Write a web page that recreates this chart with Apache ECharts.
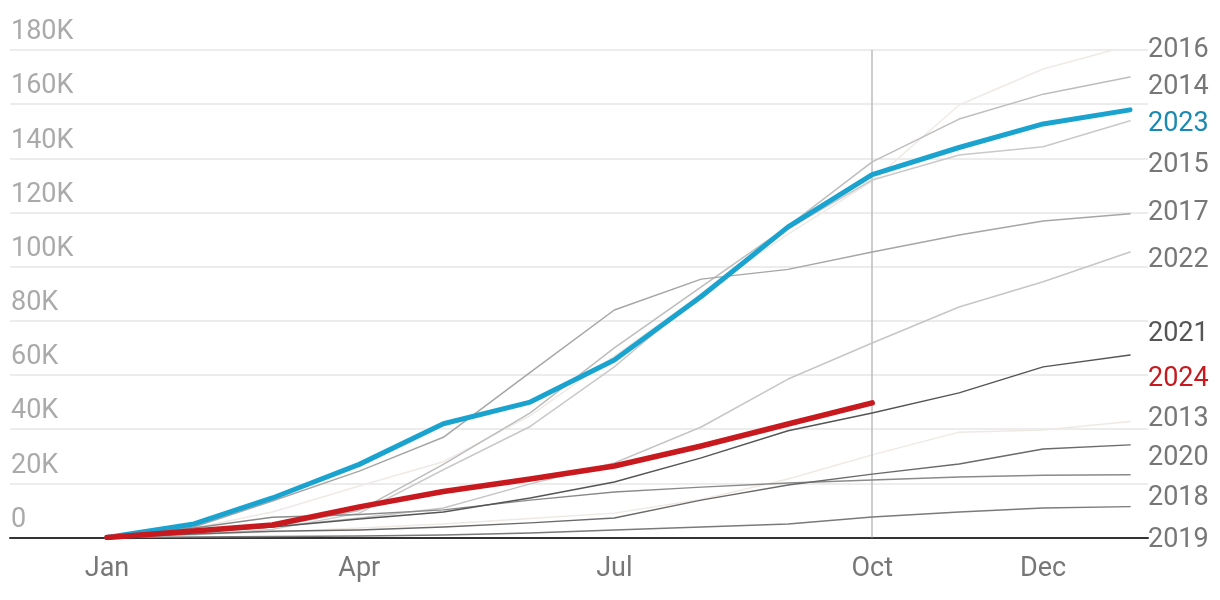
<!DOCTYPE html>
<html>
<head>
<meta charset="utf-8">
<script src="https://cdn.jsdelivr.net/npm/echarts@6/dist/echarts.min.js"></script>
<style>html,body{margin:0;padding:0;background:#fff}#c{width:1220px;height:600px}</style>
</head>
<body>
<div id="c"></div>
<script>
// x positions: day of year at the first of each month (last = year end)
const monthDays = [0, 31, 59, 90, 120, 151, 181, 212, 243, 273, 304, 334, 365];
const tickDays = [0, 90, 181, 273, 334];
const tickLabels = ['Jan', 'Apr', 'Jul', 'Oct', 'Dec'];
const yTickLabels = ['0', '20K', '40K', '60K', '80K', '100K', '120K', '140K', '160K', '180K'];
const markerDay = 273;

// cumulative values, thousands
const s2013 = [0, 1, 2, 3.5, 5, 7, 9, 14, 21.6, 30.5, 38.9, 39.7, 42.8];
const s2014 = [0, 1.5, 4, 10, 27, 46, 70, 92.5, 115, 138.7, 154.5, 163.7, 170];
const s2015 = [0, 1, 3, 9, 25, 41, 63, 90, 114, 132, 141.2, 144.3, 153.9];
const s2016 = [0, 3.5, 9.4, 19, 28, 45, 67, 90, 112, 131.6, 159.7, 173, 181.7];
const s2017 = [0, 3.9, 13.5, 24.5, 37, 61, 84, 95.4, 99, 105.4, 111.7, 116.9, 119.5];
const s2018 = [0, 3.5, 7.5, 8.5, 10.2, 13.8, 16.8, 18.6, 20.1, 21.2, 22.3, 23, 23.2];
const s2019 = [0, 0.2, 0.4, 0.6, 0.9, 1.7, 2.8, 3.9, 5, 7.6, 9.4, 10.9, 11.4];
const s2020 = [0, 1.3, 2.3, 2.8, 3.9, 5.4, 7.2, 13.8, 19.4, 23.4, 27.1, 32.7, 34.2];
const s2021 = [0, 2, 3.9, 6.8, 9.4, 14.6, 20.5, 29.4, 39.4, 46, 53.4, 63, 67.4];
const s2022 = [0, 1.7, 3.9, 7.2, 10.9, 19.8, 27.5, 40.8, 58.5, 71.8, 85.1, 94.4, 105.4];
const s2023 = [0, 5, 14.6, 27, 42, 50, 65.5, 89, 114.7, 134, 144, 152.7, 157.9];
const s2024 = [0, 2.4, 4.6, 11.3, 17, 21.6, 26.4, 33.8, 41.9, 49.7];

const seriesData = {
  '2013': s2013, '2014': s2014, '2015': s2015, '2016': s2016, '2017': s2017,
  '2018': s2018, '2019': s2019, '2020': s2020, '2021': s2021, '2022': s2022,
  '2023': s2023, '2024': s2024
};

const styles = {
  '2013': { color: '#efe9e4', width: 1.5, label: '#777' },
  '2014': { color: '#bdbdbd', width: 1.5, label: '#777' },
  '2015': { color: '#c9c9c9', width: 1.5, label: '#777' },
  '2016': { color: '#efeae6', width: 1.5, label: '#777' },
  '2017': { color: '#a6a6a6', width: 1.5, label: '#777' },
  '2018': { color: '#8a8a8a', width: 1.5, label: '#777' },
  '2019': { color: '#7a7a7a', width: 1.5, label: '#777' },
  '2020': { color: '#6a6a6a', width: 1.5, label: '#777' },
  '2021': { color: '#555555', width: 1.5, label: '#555' },
  '2022': { color: '#c6c6c6', width: 1.5, label: '#777' },
  '2023': { color: '#1ba3d0', width: 5, label: '#1a8ab3' },
  '2024': { color: '#c8191e', width: 5.5, label: '#c8191e' }
};
// vertical centre of each right-hand name label, px
const labelCentre = {
  '2016': 48, '2014': 84.5, '2023': 122, '2015': 163, '2017': 211, '2022': 258,
  '2021': 332, '2024': 376.5, '2013': 417, '2020': 456, '2018': 496, '2019': 538
};

const FONT = 'Roboto';
const order = ['2016', '2013', '2015', '2014', '2022', '2017', '2018', '2019', '2020', '2021', '2023', '2024'];

const series = order.map((name, k) => {
  const st = styles[name];
  return {
    name, type: 'line', symbol: 'none', smooth: false, silent: true,
    z: 3 + k,
    lineStyle: { color: st.color, width: st.width, cap: 'round', join: 'round' },
    data: seriesData[name].map((v, i) => [monthDays[i], v * 1000])
  };
});
// Oct reference line, carried by the first (faintest) series
series[0].markLine = {
  symbol: 'none', silent: true, label: { show: false },
  lineStyle: { color: '#bdbdbd', width: 1.5, type: 'solid' },
  data: [{ xAxis: markerDay }]
};
series[0].z = 2;

const chart = echarts.init(document.getElementById('c'));
chart.setOption({
  animation: false,
  backgroundColor: '#fff',
  grid: { left: 10, right: 72, top: 50, bottom: 62.5 },
  xAxis: {
    type: 'value', min: -34.6, max: 371.4,
    splitLine: { show: false },
    axisTick: { show: false },
    axisLine: { show: true, onZero: false, lineStyle: { color: '#333', width: 2 } },
    axisLabel: {
      customValues: tickDays,
      formatter: v => tickLabels[tickDays.indexOf(v)] || '',
      color: '#777', fontFamily: FONT, fontSize: 27, margin: 18
    }
  },
  yAxis: {
    type: 'value', min: 0, max: 180000, interval: 20000,
    axisLine: { show: false }, axisTick: { show: false },
    splitLine: { lineStyle: { color: '#e6e6e6', width: 1.5 } },
    axisLabel: {
      inside: true, margin: 1, align: 'left', verticalAlign: 'bottom',
      padding: [0, 0, 4, 0],
      color: '#aaa', fontFamily: FONT, fontSize: 27,
      formatter: v => yTickLabels[Math.round(v / 20000)]
    }
  },
  graphic: order.map(name => ({
    type: 'text', left: 1148, top: labelCentre[name] - 11, z: 100, silent: true,
    style: { text: name, fill: styles[name].label, font: '27px ' + FONT }
  })),
  series
});
</script>
</body>
</html>
